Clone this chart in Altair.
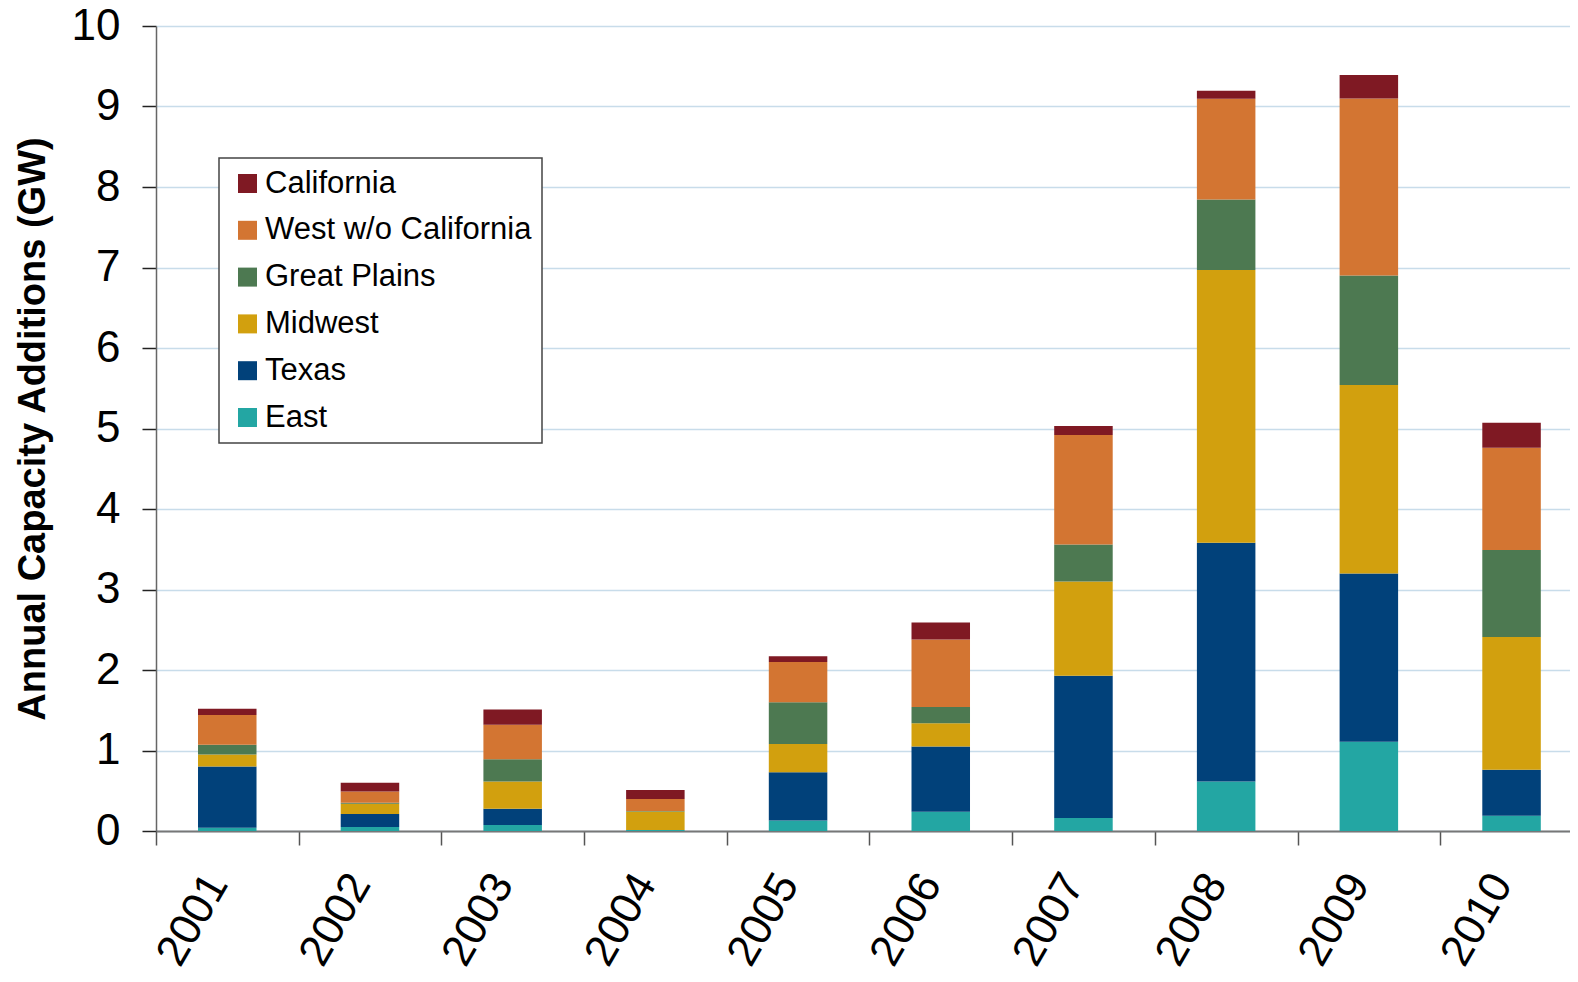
import altair as alt
import pandas as pd

years = ["2001", "2002", "2003", "2004", "2005", "2006", "2007", "2008", "2009", "2010"]
regions = ["California", "West w/o California", "Great Plains", "Midwest", "Texas", "East"]
colors = ["#7f1923", "#d37532", "#4d7951", "#d2a00e", "#01417a", "#23a6a3"]

east = [0.04, 0.05, 0.075, 0.013, 0.13, 0.24, 0.16, 0.615, 1.11, 0.19]
texas = [0.76, 0.16, 0.20, 0.0, 0.60, 0.81, 1.77, 2.965, 2.09, 0.57]
midwest = [0.15, 0.13, 0.34, 0.23, 0.35, 0.29, 1.17, 3.39, 2.34, 1.65]
great_plains = [0.12, 0.01, 0.275, 0.005, 0.52, 0.20, 0.46, 0.875, 1.36, 1.08]
west = [0.37, 0.14, 0.43, 0.15, 0.50, 0.84, 1.36, 1.25, 2.20, 1.27]
california = [0.08, 0.11, 0.19, 0.11, 0.07, 0.21, 0.11, 0.10, 0.29, 0.31]

series = {
    "East": east,
    "Texas": texas,
    "Midwest": midwest,
    "Great Plains": great_plains,
    "West w/o California": west,
    "California": california,
}
stack_order = ["East", "Texas", "Midwest", "Great Plains", "West w/o California", "California"]

rows = []
for name in stack_order:
    for yr, v in zip(years, series[name]):
        rows.append({"year": yr, "region": name, "value": v, "ord": stack_order.index(name)})
df = pd.DataFrame(rows)

FONT = "Liberation Sans"
STEP_HALF = 71.35

chart = alt.Chart(df).mark_bar().encode(
    x=alt.X("year:N", sort=years, title=None,
            scale=alt.Scale(paddingInner=0.59, paddingOuter=0.2495, align=0.59),
            axis=alt.Axis(labelAngle=-60, labelFontSize=44, labelFont=FONT, labelColor="#000000",
                          labelPadding=32, labelOffset=STEP_HALF - 10,
                          tickOffset=-STEP_HALF, tickSize=14, tickColor="#555555", tickWidth=1.5,
                          domainColor="#777777", domainWidth=2, grid=False)),
    y=alt.Y("value:Q", stack="zero", title="Annual Capacity Additions (GW)",
            scale=alt.Scale(domain=[0, 10], nice=False),
            axis=alt.Axis(values=list(range(0, 11)), labelFontSize=44, labelFont=FONT,
                          labelColor="#000000", labelPadding=22, tickSize=14,
                          tickColor="#222222", tickWidth=1.5, domainColor="#666666",
                          domainWidth=1.5, titleFont=FONT, titleFontSize=38,
                          titleFontWeight="bold", titleColor="#000000", titlePadding=19,
                          gridColor="#c8dcea", gridWidth=1.5)),
    color=alt.Color("region:N", title=None,
                    scale=alt.Scale(domain=regions, range=colors),
                    legend=alt.Legend(orient="none", legendX=63, legendY=132,
                                      symbolType="square", symbolSize=361,
                                      symbolStrokeWidth=0, labelFont=FONT, labelFontSize=31,
                                      labelColor="#000000", labelLimit=0, rowPadding=14.8,
                                      padding=10, labelOffset=2, symbolOffset=3,
                                      strokeColor="#444444", fillColor="#ffffff")),
    order=alt.Order("ord:Q", sort="ascending"),
).properties(
    width=1414, height=805,
    autosize=alt.AutoSizeParams(type="none"),
    padding={"left": 148, "top": 18, "right": 0, "bottom": 142},
).configure_view(stroke=None).configure_legend(strokeWidth=1.5)

chart.save("out.html", embed_options={"renderer": "svg", "actions": False})
